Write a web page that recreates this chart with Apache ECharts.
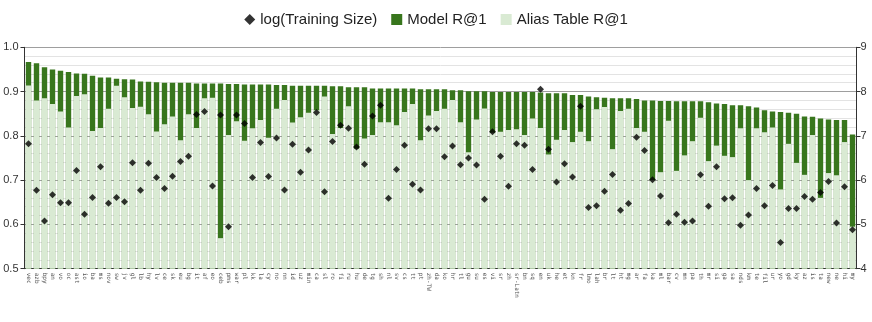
<!DOCTYPE html>
<html>
<head>
<meta charset="utf-8">
<title>Model vs Alias Table R@1</title>
<script src="https://cdn.jsdelivr.net/npm/echarts@6/dist/echarts.min.js"></script>
<style>
  html, body { margin: 0; padding: 0; background: #fff; }
  #chart { width: 872px; height: 322px; }
</style>
</head>
<body>
<div id="chart"></div>
<script>
// 语言代码（按 Model R@1 降序）
const languages = [
  'vec', 'azb', 'bpy', 'an', 'vo', 'oc', 'ast', 'io', 'ba', 'ms', 'nov', 'sw', 'jv', 'gl', 'lb', 'hy', 'lv',
  'ce', 'sk', 'eu', 'bg', 'it', 'af', 'eo', 'ceb', 'pms', 'war', 'pl', 'kk', 'la', 'cy', 'no', 'nn', 'id', 'uz',
  'min', 'ca', 'sl', 'ro', 'fi', 'ru', 'hu', 'de', 'tg', 'sh', 'nl', 'sv', 'cs', 'tt', 'pt', 'zh-TW', 'da',
  'ko', 'hr', 'tl', 'gu', 'su', 'es', 'vi', 'sr', 'zh', 'sr-Latn', 'bn', 'sq', 'en', 'uk', 'he', 'et', 'kn',
  'fr', 'lmo', 'lah', 'br', 'lt', 'ht', 'mg', 'ar', 'fa', 'ka', 'ml', 'bar', 'cv', 'mn', 'pa', 'th', 'mr',
  'si', 'ga', 'sa', 'nds', 'km', 'te', 'fil', 'ur', 'yo', 'gd', 'ky', 'az', 'is', 'ta', 'new', 'ne', 'hi', 'my',
]

// Model R@1
const modelR1 = [
  0.967, 0.964, 0.955, 0.950, 0.947, 0.944, 0.941, 0.940, 0.936, 0.932, 0.932, 0.929, 0.928, 0.927, 0.923, 0.922, 0.921,
  0.920, 0.920, 0.920, 0.920, 0.918, 0.918, 0.918, 0.918, 0.917, 0.917, 0.916, 0.916, 0.916, 0.916, 0.915, 0.915, 0.913, 0.913,
  0.913, 0.913, 0.913, 0.912, 0.912, 0.910, 0.910, 0.910, 0.907, 0.907, 0.907, 0.907, 0.907, 0.907, 0.905, 0.905, 0.905,
  0.905, 0.903, 0.903, 0.901, 0.901, 0.901, 0.899, 0.899, 0.899, 0.899, 0.899, 0.899, 0.898, 0.896, 0.896, 0.896, 0.892,
  0.892, 0.889, 0.887, 0.886, 0.885, 0.885, 0.885, 0.883, 0.880, 0.880, 0.879, 0.879, 0.878, 0.878, 0.878, 0.878,
  0.876, 0.873, 0.872, 0.869, 0.869, 0.867, 0.864, 0.858, 0.855, 0.854, 0.852, 0.850, 0.844, 0.843, 0.839, 0.837, 0.836, 0.836, 0.803,
]

// Alias Table R@1
const aliasR1 = [
  0.914, 0.880, 0.885, 0.872, 0.855, 0.819, 0.890, 0.894, 0.811, 0.818, 0.861, 0.913, 0.887, 0.863, 0.866, 0.849, 0.810,
  0.826, 0.844, 0.790, 0.849, 0.818, 0.885, 0.886, 0.569, 0.802, 0.833, 0.789, 0.817, 0.836, 0.796, 0.861, 0.881, 0.830, 0.842,
  0.852, 0.858, 0.889, 0.804, 0.818, 0.867, 0.771, 0.794, 0.802, 0.831, 0.831, 0.824, 0.854, 0.872, 0.790, 0.846, 0.856,
  0.861, 0.881, 0.831, 0.763, 0.837, 0.862, 0.807, 0.809, 0.813, 0.815, 0.802, 0.839, 0.818, 0.758, 0.791, 0.813, 0.786,
  0.809, 0.788, 0.860, 0.865, 0.770, 0.856, 0.861, 0.818, 0.809, 0.700, 0.718, 0.834, 0.721, 0.756, 0.788, 0.841,
  0.743, 0.778, 0.755, 0.752, 0.817, 0.700, 0.817, 0.808, 0.819, 0.679, 0.782, 0.739, 0.712, 0.802, 0.660, 0.716, 0.711, 0.786, 0.595,
]

// log(Training Size)
const logTrainingSize = [
  6.82, 5.77, 5.08, 5.67, 5.49, 5.49, 6.22, 5.23, 5.61, 6.30, 5.48, 5.61, 5.51, 6.39, 5.77, 6.38, 6.06,
  5.81, 6.09, 6.42, 6.54, 7.48, 7.55, 5.87, 7.47, 4.95, 7.47, 7.28, 6.06, 6.85, 6.08, 6.95, 5.78, 6.81, 6.18,
  6.68, 7.53, 5.74, 6.87, 7.24, 7.17, 6.75, 6.36, 7.45, 7.69, 5.59, 6.24, 6.79, 5.91, 5.78, 7.16, 7.16,
  6.53, 6.77, 6.35, 6.50, 6.34, 5.57, 7.09, 6.54, 5.86, 6.82, 6.79, 6.24, 8.05, 6.70, 5.96, 6.37, 6.07,
  7.67, 5.38, 5.42, 5.75, 6.13, 5.32, 5.47, 6.97, 6.67, 6.01, 5.64, 5.04, 5.23, 5.05, 5.08, 6.12,
  5.41, 6.30, 5.58, 5.60, 4.98, 5.21, 5.81, 5.42, 5.88, 4.59, 5.36, 5.36, 5.63, 5.57, 5.72, 5.97, 5.03, 5.85, 4.88,
]

// 左右轴刻度
const leftTicks = { min: 0.5, max: 1.0, interval: 0.1 }
const rightTicks = { min: 4, max: 9, interval: 1 }

const DARK_GREEN = '#38761d'
const LIGHT_GREEN = '#d9ead3'

const chart = echarts.init(document.getElementById('chart'), null, { renderer: 'canvas' })

const option = {
  animation: false,
  legend: {
    top: 7,
    left: 'center',
    itemGap: 14,
    itemWidth: 11,
    itemHeight: 11,
    textStyle: { fontSize: 15, color: '#222', fontFamily: 'Arial, "Liberation Sans", sans-serif' },
    data: [
      { name: 'log(Training Size)', icon: 'diamond', itemStyle: { color: '#000' } },
      { name: 'Model R@1', icon: 'rect' },
      { name: 'Alias Table R@1', icon: 'rect' },
    ],
  },
  grid: { left: 24.5, right: 15.5, top: 47.3, bottom: 53.3 },
  xAxis: {
    type: 'category',
    data: languages,
    axisLine: { show: true, lineStyle: { color: '#333', width: 1 } },
    axisTick: { show: false },
    axisLabel: {
      interval: 0,
      rotate: -90,
      fontSize: 6,
      color: '#555',
      margin: 4,
      fontFamily: '"DejaVu Sans Mono", monospace',
    },
  },
  yAxis: [
    {
      type: 'value',
      min: leftTicks.min,
      max: leftTicks.max,
      interval: leftTicks.interval,
      axisLine: { show: true, lineStyle: { color: '#333' } },
      axisTick: { show: true, length: 4, lineStyle: { color: '#333' } },
      axisLabel: {
        fontSize: 11,
        color: '#333',
        margin: 6,
        fontFamily: 'Arial, "Liberation Sans", sans-serif',
        formatter: (v) => v.toFixed(1),
      },
      splitLine: { show: true, lineStyle: { color: '#9e9e9e', width: 1 } },
      minorTick: { show: false, splitNumber: 5 },
      minorSplitLine: { show: true, lineStyle: { color: '#e3e3e3', width: 1 } },
    },
    {
      type: 'value',
      min: rightTicks.min,
      max: rightTicks.max,
      interval: rightTicks.interval,
      position: 'right',
      axisLine: { show: true, lineStyle: { color: '#333' } },
      axisTick: { show: true, length: 4, lineStyle: { color: '#333' } },
      axisLabel: {
        fontSize: 11,
        color: '#333',
        margin: 4,
        fontFamily: 'Arial, "Liberation Sans", sans-serif',
      },
      splitLine: { show: false },
    },
  ],
  series: [
    {
      name: 'Model R@1',
      type: 'bar',
      data: modelR1,
      barWidth: 5.4,
      barGap: '-100%',
      itemStyle: { color: DARK_GREEN },
      z: 2,
    },
    {
      name: 'Alias Table R@1',
      type: 'bar',
      data: aliasR1,
      barWidth: 5.4,
      barGap: '-100%',
      itemStyle: { color: LIGHT_GREEN },
      z: 3,
    },
    {
      name: 'log(Training Size)',
      type: 'scatter',
      yAxisIndex: 1,
      data: logTrainingSize,
      symbol: 'diamond',
      symbolSize: 7,
      itemStyle: { color: '#000' },
      z: 5,
    },
  ],
}

chart.setOption(option)
</script>
</body>
</html>
